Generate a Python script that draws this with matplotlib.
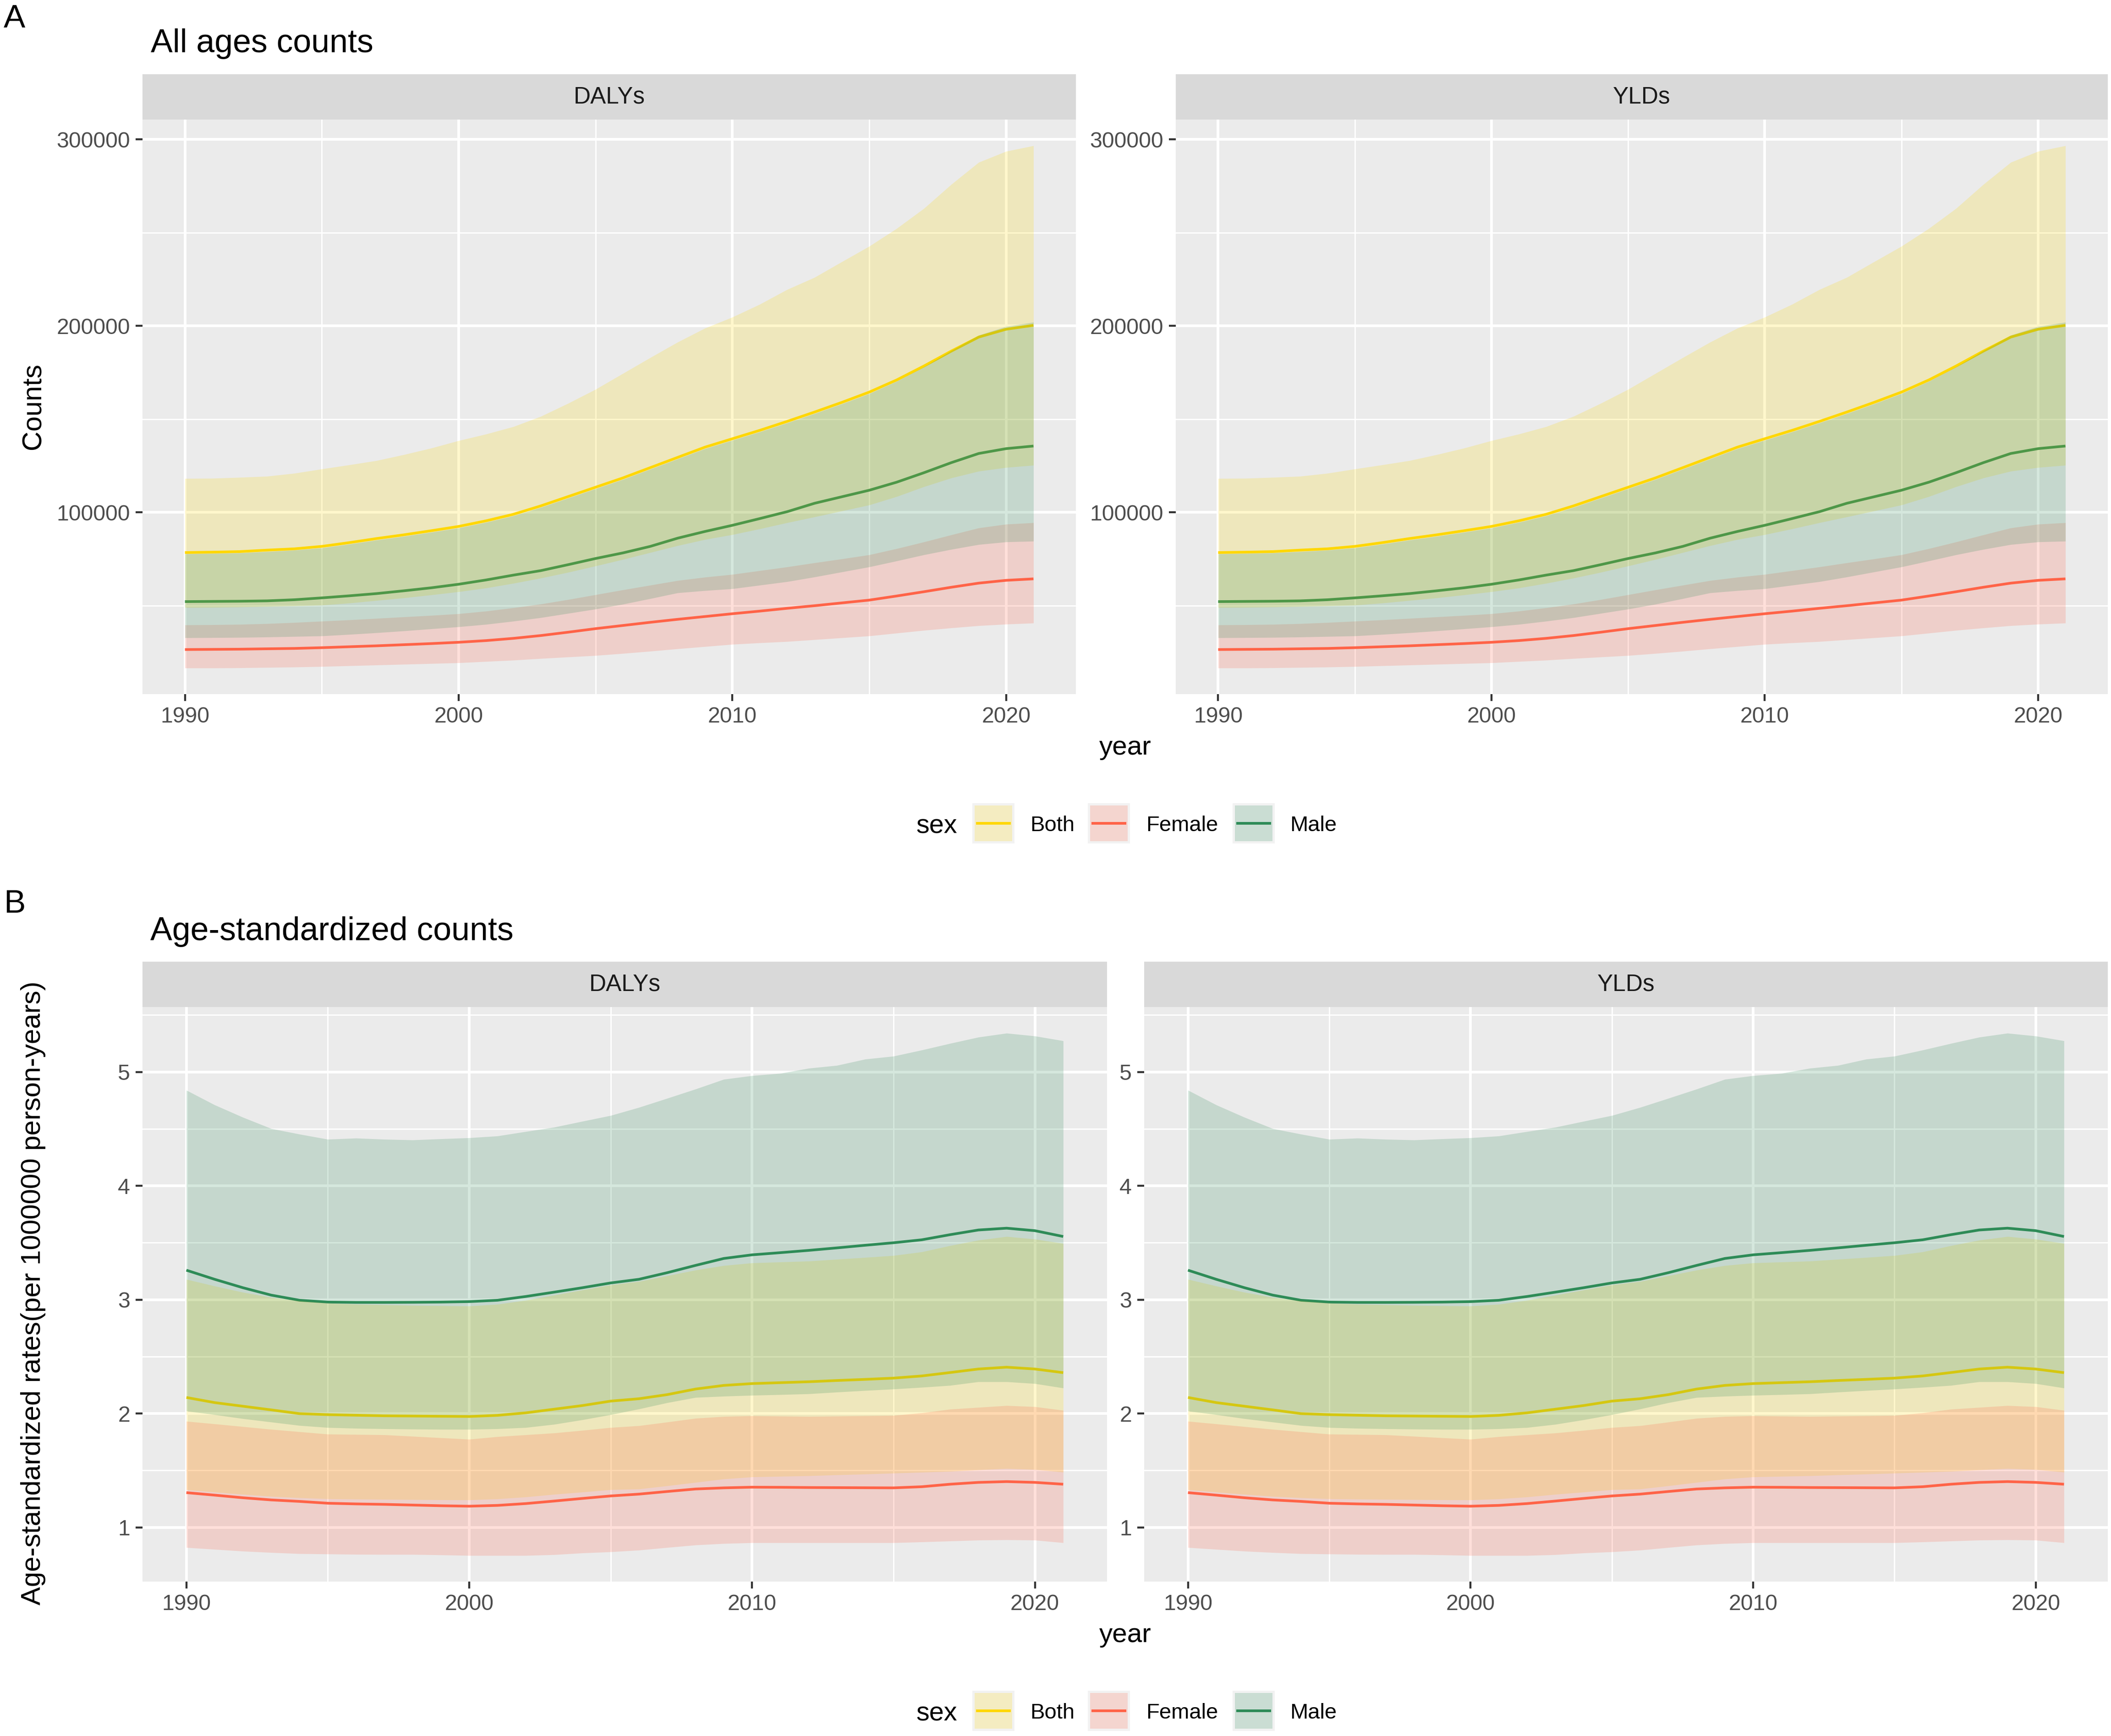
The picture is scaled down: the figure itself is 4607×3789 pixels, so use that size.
import matplotlib
matplotlib.use("Agg")
import matplotlib.pyplot as plt
from matplotlib.patches import Rectangle
from matplotlib.lines import Line2D
import numpy as np

plt.rcParams['font.family'] = ['Liberation Sans', 'DejaVu Sans']

# ---------------- data ----------------
years = list(range(1990, 2022))
sexes = ["Both", "Female", "Male"]
facets = ["DALYs", "YLDs"]

# Panel A: all ages counts
both_cnt_val = [78500, 78700, 79000, 79800, 80500, 81800, 83800, 86000, 88000, 90200,
                92500, 95500, 99000, 103500, 108500, 113500, 118500, 124000, 129500, 135000,
                139500, 144000, 148800, 153800, 159000, 164500, 171000, 178500, 186500, 194000,
                198200, 200300]
both_cnt_up = [118200, 118300, 118800, 119400, 121000, 123300, 125500, 127800, 131000, 134500,
               138500, 142000, 146000, 151500, 158500, 166000, 174500, 183000, 191300, 198800,
               204700, 211600, 219500, 226000, 234400, 242700, 252200, 263000, 275900, 287700,
               293600, 296600]
both_cnt_lo = [49000, 49100, 49300, 49600, 49900, 50300, 51400, 52800, 54200, 55800,
               57500, 59500, 62000, 64800, 67900, 71300, 74800, 78500, 82200, 85500,
               88100, 91200, 94500, 97600, 100800, 104000, 108500, 113800, 118500, 122100,
               124100, 125300]
male_cnt_val = [52200, 52300, 52400, 52600, 53200, 54200, 55300, 56500, 58000, 59600,
                61500, 63800, 66400, 68800, 72000, 75300, 78300, 81800, 86200, 89800,
                93100, 96700, 100400, 104900, 108400, 111900, 116200, 121300, 126700, 131600,
                134200, 135600]
male_cnt_up = [77800, 78000, 78300, 79000, 79800, 81000, 83000, 85200, 87200, 89400,
               91700, 94700, 98200, 102700, 107700, 112700, 117700, 123200, 128700, 134200,
               138700, 143200, 148000, 153000, 158200, 163700, 170300, 178000, 186800, 195000,
               199700, 202000]
male_cnt_lo = [32800, 32900, 33000, 33200, 33500, 33800, 34600, 35500, 36500, 37600,
               38700, 40000, 41700, 43600, 45900, 48200, 50800, 53800, 56900, 58100,
               59100, 61000, 62900, 65400, 68100, 70800, 74000, 77300, 80200, 82800,
               84200, 84600]
female_cnt_val = [26500, 26600, 26700, 26900, 27100, 27500, 28000, 28500, 29100, 29700,
                  30400, 31300, 32500, 34000, 35800, 37700, 39400, 41100, 42700, 44200,
                  45700, 47100, 48600, 50000, 51500, 53000, 55200, 57500, 59900, 62100,
                  63600, 64400]
female_cnt_up = [39700, 39800, 40000, 40400, 41000, 41700, 42400, 43200, 44000, 44800,
                 45700, 47100, 48900, 50900, 53300, 55900, 58500, 61000, 63500, 65300,
                 66800, 68800, 70800, 73000, 75100, 77300, 80600, 84200, 88000, 91700,
                 93700, 94500]
female_cnt_lo = [16600, 16600, 16700, 16900, 17100, 17400, 17800, 18200, 18600, 19000,
                 19400, 20100, 20800, 21700, 22500, 23300, 24400, 25600, 26900, 28100,
                 29300, 30100, 30800, 31800, 32800, 33800, 35300, 36800, 38100, 39300,
                 40100, 40700]

# Panel B: age-standardized rates
both_rate_val = [2.141, 2.096, 2.064, 2.032, 1.999, 1.990, 1.985, 1.980, 1.978, 1.976,
                 1.974, 1.984, 2.006, 2.038, 2.070, 2.109, 2.130, 2.166, 2.215, 2.247,
                 2.263, 2.271, 2.279, 2.290, 2.300, 2.311, 2.330, 2.360, 2.391, 2.407,
                 2.391, 2.359]
both_rate_up = [3.179, 3.120, 3.065, 3.020, 2.990, 2.970, 2.960, 2.955, 2.950, 2.947,
                2.944, 2.960, 2.995, 3.040, 3.085, 3.130, 3.160, 3.210, 3.260, 3.300,
                3.323, 3.331, 3.339, 3.355, 3.371, 3.388, 3.420, 3.475, 3.523, 3.555,
                3.532, 3.494]
both_rate_lo = [1.331, 1.310, 1.290, 1.272, 1.260, 1.251, 1.248, 1.246, 1.244, 1.242,
                1.241, 1.250, 1.267, 1.290, 1.310, 1.331, 1.337, 1.365, 1.395, 1.425,
                1.443, 1.448, 1.453, 1.461, 1.468, 1.476, 1.484, 1.492, 1.505, 1.517,
                1.508, 1.485]
male_rate_val = [3.259, 3.179, 3.105, 3.040, 2.995, 2.979, 2.976, 2.976, 2.977, 2.979,
                 2.983, 2.995, 3.028, 3.066, 3.105, 3.147, 3.179, 3.237, 3.301, 3.362,
                 3.394, 3.413, 3.433, 3.455, 3.478, 3.500, 3.526, 3.571, 3.612, 3.628,
                 3.606, 3.555]
male_rate_up = [4.840, 4.711, 4.602, 4.503, 4.454, 4.409, 4.419, 4.409, 4.403, 4.413,
                4.422, 4.438, 4.477, 4.515, 4.567, 4.618, 4.689, 4.769, 4.850, 4.936,
                4.968, 4.988, 5.033, 5.058, 5.113, 5.139, 5.193, 5.251, 5.306, 5.341,
                5.316, 5.274]
male_rate_lo = [2.022, 1.990, 1.955, 1.925, 1.895, 1.877, 1.870, 1.866, 1.863, 1.861,
                1.861, 1.866, 1.877, 1.905, 1.945, 1.990, 2.040, 2.095, 2.141, 2.152,
                2.160, 2.166, 2.173, 2.188, 2.202, 2.215, 2.230, 2.247, 2.279, 2.279,
                2.263, 2.224]
female_rate_val = [1.305, 1.283, 1.260, 1.241, 1.228, 1.212, 1.206, 1.202, 1.196, 1.190,
                   1.186, 1.193, 1.209, 1.231, 1.254, 1.276, 1.292, 1.315, 1.337, 1.347,
                   1.353, 1.352, 1.350, 1.349, 1.348, 1.347, 1.357, 1.379, 1.395, 1.402,
                   1.395, 1.379]
female_rate_up = [1.932, 1.909, 1.885, 1.861, 1.840, 1.819, 1.816, 1.813, 1.800, 1.787,
                  1.774, 1.797, 1.813, 1.829, 1.852, 1.877, 1.893, 1.925, 1.958, 1.974,
                  1.980, 1.977, 1.974, 1.977, 1.980, 1.983, 2.006, 2.038, 2.054, 2.070,
                  2.060, 2.028]
female_rate_lo = [0.823, 0.807, 0.791, 0.779, 0.769, 0.766, 0.763, 0.762, 0.762, 0.758,
                  0.753, 0.753, 0.753, 0.760, 0.775, 0.785, 0.800, 0.823, 0.845, 0.858,
                  0.865, 0.865, 0.865, 0.865, 0.865, 0.865, 0.872, 0.880, 0.888, 0.891,
                  0.888, 0.865]

x_ticks = [1990, 2000, 2010, 2020]
x_minor = [1995, 2005, 2015]
yA_ticks = [100000, 200000, 300000]
yA_labels = ["100000", "200000", "300000"]
yA_minor = [50000, 150000, 250000]
yB_ticks = [1, 2, 3, 4, 5]
yB_labels = ["1", "2", "3", "4", "5"]
yB_minor = [1.5, 2.5, 3.5, 4.5, 5.5]

colors = {"Both": "#FFD700", "Female": "#FF6347", "Male": "#2E8B57"}

counts = {"Both": (both_cnt_val, both_cnt_lo, both_cnt_up),
          "Female": (female_cnt_val, female_cnt_lo, female_cnt_up),
          "Male": (male_cnt_val, male_cnt_lo, male_cnt_up)}
rates = {"Both": (both_rate_val, both_rate_lo, both_rate_up),
         "Female": (female_rate_val, female_rate_lo, female_rate_up),
         "Male": (male_rate_val, male_rate_lo, male_rate_up)}

# ---------------- layout ----------------
W, H = 4607, 3789
DPI = 300
fig = plt.figure(figsize=(W / DPI, H / DPI), dpi=DPI)
fig.patch.set_facecolor("white")


def px_axes(x0, x1, y0, y1):
    return fig.add_axes([x0 / W, 1 - y1 / H, (x1 - x0) / W, (y1 - y0) / H])


def expand(lo, hi, m=0.05):
    d = hi - lo
    return lo - m * d, hi + m * d


def draw_panel(ax, data, yt, ytl, ymin):
    ax.set_facecolor("#EBEBEB")
    for s in ax.spines.values():
        s.set_visible(False)
    allv = np.concatenate([np.array(data[k][1]) for k in sexes] + [np.array(data[k][2]) for k in sexes])
    ax.set_xlim(*expand(min(years), max(years)))
    ax.set_ylim(*expand(allv.min(), allv.max()))
    ax.set_xticks(x_ticks)
    ax.set_xticklabels([str(v) for v in x_ticks])
    ax.set_xticks(x_minor, minor=True)
    ax.set_yticks(yt)
    ax.set_yticklabels(ytl)
    ax.set_yticks(ymin, minor=True)
    ax.grid(which="major", color="white", linewidth=1.4, zorder=0.5)
    ax.grid(which="minor", color="white", linewidth=0.7, zorder=0.5)
    ax.set_axisbelow(True)
    ax.tick_params(which="major", length=3.6, width=1.05, color="#333333",
                   labelcolor="#4D4D4D", labelsize=11.6, pad=2.9)
    ax.tick_params(which="minor", length=0)
    for k in sexes:
        v, lo, hi = data[k]
        ax.plot(years, v, color=colors[k], linewidth=1.4, zorder=2, solid_capstyle="butt")
    for k in sexes:
        v, lo, hi = data[k]
        ax.fill_between(years, lo, hi, color=colors[k], alpha=0.2, linewidth=0, zorder=3)


def draw_strip(x0, x1, y0, y1, label):
    s = px_axes(x0, x1, y0, y1)
    s.set_facecolor("#D9D9D9")
    for sp in s.spines.values():
        sp.set_visible(False)
    s.set_xticks([])
    s.set_yticks([])
    s.text(0.5, 0.5, label, ha="center", va="center", fontsize=12.3, color="#1A1A1A",
           transform=s.transAxes)


def draw_legend(yc):
    fig.text(1999 / W, 1 - yc / H, "sex", ha="left", va="center_baseline", fontsize=13.8, color="black")
    key_x = [2122, 2374, 2690]
    txt_x = [2248, 2501, 2815]
    kw, kh = 92, 88
    for k, kx, tx in zip(sexes, key_x, txt_x):
        fig.add_artist(Rectangle((kx / W, 1 - (yc + kh / 2) / H), kw / W, kh / H,
                                 transform=fig.transFigure, facecolor="#F2F2F2", edgecolor="none"))
        ins = 5
        fig.add_artist(Rectangle(((kx + ins) / W, 1 - (yc + kh / 2 - ins) / H), (kw - 2 * ins) / W,
                                 (kh - 2 * ins) / H, transform=fig.transFigure,
                                 facecolor=colors[k], alpha=0.2, edgecolor="none"))
        fig.add_artist(Line2D([(kx + 8) / W, (kx + kw - 8) / W], [1 - yc / H, 1 - yc / H],
                              transform=fig.transFigure, color=colors[k], linewidth=1.4,
                              solid_capstyle="butt"))
        fig.text(tx / W, 1 - yc / H, k, ha="left", va="center_baseline", fontsize=11.3, color="black")


# ---- Panel A ----
A_panels = [(311, 2348), (2566, 4600)]
for (x0, x1), f in zip(A_panels, facets):
    ax = px_axes(x0, x1, 261, 1515)
    draw_panel(ax, counts, yA_ticks, yA_labels, yA_minor)
    draw_strip(x0, x1, 162, 261, f)

fig.text(8 / W, 1 - 60 / H, "A", ha="left", va="baseline", fontsize=17, color="black")
fig.text(329 / W, 1 - 114 / H, "All ages counts", ha="left", va="baseline", fontsize=17.2, color="black")
fig.text(73 / W, 1 - 887 / H, "Counts", rotation=90, ha="center", va="center", fontsize=14.3, color="black")
fig.text(2456 / W, 1 - 1647 / H, "year", ha="center", va="baseline", fontsize=14.0, color="black")
draw_legend(1797)

# ---- Panel B ----
B_panels = [(311, 2416), (2497, 4600)]
for (x0, x1), f in zip(B_panels, facets):
    ax = px_axes(x0, x1, 2198, 3452)
    draw_panel(ax, rates, yB_ticks, yB_labels, yB_minor)
    draw_strip(x0, x1, 2099, 2198, f)

fig.text(8 / W, 1 - 1992 / H, "B", ha="left", va="baseline", fontsize=17, color="black")
fig.text(328 / W, 1 - 2052 / H, "Age-standardized counts", ha="left", va="baseline", fontsize=17.2, color="black")
fig.text(73 / W, 1 - 2822 / H, "Age-standardized rates(per 1000000 person-years)", rotation=90,
         ha="center", va="center", fontsize=14.4, color="black")
fig.text(2456 / W, 1 - 3584 / H, "year", ha="center", va="baseline", fontsize=14.0, color="black")
draw_legend(3734)

fig.savefig("out.png", dpi=DPI, facecolor="white")
